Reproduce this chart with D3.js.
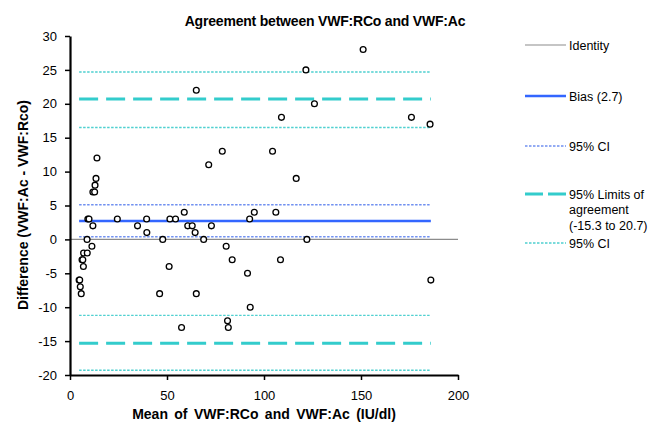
<!DOCTYPE html>
<html lang="en">
<head>
<meta charset="UTF-8" />
<title>Agreement between VWF:RCo and VWF:Ac</title>
<script src="https://d3js.org/d3.v7.min.js"></script>
<style>
  body { margin: 0; background: #fff; font-family: "Liberation Sans", Arial, sans-serif; }
  svg { display: block; }
  .tick text { font-size: 13px; fill: #000; }
  .axis path, .axis line { stroke: #000; }
  .axis path { stroke-width: 2.2; }
  .legend text { font-size: 12.5px; fill: #000; }
</style>
</head>
<body>
<svg width="670" height="423"></svg>
<script>
  // mean of the two methods, difference (Ac - RCo)
  const means = [4.7, 5.0, 5.3, 5.8, 6.2, 6.6, 6.9, 7.0, 8.9, 8.8, 9.2, 9.8, 11.3, 11.8, 11.8, 12.7, 12.9, 13.4, 13.9,
    24.4, 34.8, 39.5, 39.6, 46.2, 47.8, 51.1, 51.5, 54.4, 57.5, 58.9, 60.7, 63.0, 64.5, 65.1, 65.1, 68.9,
    71.5, 72.9, 78.5, 80.5, 81.2, 81.6, 83.6, 91.5, 92.6, 92.9, 95.0, 104.4, 106.1, 108.5, 109.0, 116.6,
    121.6, 122.1, 126.0, 151.1, 176.0, 185.6, 186.0];
  const diffs = [-6, -6, -7, -8, -3, -3, -4, -2, -2, 0, 3, 3, -1, 2, 7, 7, 8, 9, 12,
    3, 2, 3, 1, -8, 0, -4, 3, 3, -13, 4, 2, 2, 1, -8, 22, 0,
    11, 2, 13, -1, -12, -13, -3, -5, 3, -10, 4, 13, 4, -3, 18, 9,
    25, 0, 20, 28, 18, 17, -6];

  const bias = 2.7;
  const biasCI = [0.4, 5.1];
  const limits = [-15.3, 20.7];
  const limitsCI = [-19.3, -11.2, 16.5, 24.7];

  const xTicks = [0, 50, 100, 150, 200];
  const yTicks = [-20, -15, -10, -5, 0, 5, 10, 15, 20, 25, 30];

  const legendItems = [
    { label: ["Identity"], style: "identity" },
    { label: ["Bias (2.7)"], style: "bias" },
    { label: ["95% CI"], style: "biasci" },
    { label: ["95% Limits of", "agreement", "(-15.3 to 20.7)"], style: "loa" },
    { label: ["95% CI"], style: "loaci" }
  ];

  const styles = {
    identity: { stroke: "#8c8c8c", width: 1.2, dash: null },
    bias: { stroke: "#3366ff", width: 2.5, dash: null },
    biasci: { stroke: "#7090f0", width: 1.6, dash: "2.5,1.5" },
    loa: { stroke: "#33cccc", width: 3, dash: "19,8" },
    loaci: { stroke: "#4fd0d0", width: 1.4, dash: "2.5,1.5" }
  };

  const svg = d3.select("svg");
  const x = d3.scaleLinear().domain([0, 200]).range([70, 458]);
  const y = d3.scaleLinear().domain([-20, 30]).range([375, 36]);

  const xMin = d3.min(means), xMax = d3.max(means);

  function hline(val, st, x0, x1) {
    const s = styles[st];
    svg.append("line")
      .attr("x1", x(x0)).attr("x2", x(x1))
      .attr("y1", y(val)).attr("y2", y(val))
      .attr("stroke", s.stroke)
      .attr("stroke-width", s.width)
      .attr("stroke-dasharray", s.dash);
  }

  // reference lines
  hline(0, "identity", 0, 200);
  limitsCI.forEach(v => hline(v, "loaci", xMin, xMax));
  limits.forEach(v => hline(v, "loa", xMin, xMax));
  biasCI.forEach(v => hline(v, "biasci", xMin, xMax));
  hline(bias, "bias", xMin, xMax);

  // axes
  svg.append("g")
    .attr("class", "axis")
    .attr("transform", "translate(70,0)")
    .call(d3.axisLeft(y).tickValues(yTicks).tickSize(5).tickSizeOuter(0).tickPadding(8).tickFormat(d => String(d)))
    .call(g => g.selectAll(".tick line").attr("stroke-width", 1.5));

  svg.append("g")
    .attr("class", "axis")
    .attr("transform", "translate(0,375)")
    .call(d3.axisBottom(x).tickValues(xTicks).tickSize(5).tickSizeOuter(0).tickPadding(11).tickFormat(d => String(d)))
    .call(g => g.selectAll(".tick line").attr("stroke-width", 1.5));

  // points
  svg.append("g").selectAll("circle")
    .data(means.map((m, i) => ({ m, d: diffs[i] })))
    .enter().append("circle")
    .attr("cx", p => x(p.m))
    .attr("cy", p => y(p.d))
    .attr("r", 2.9)
    .attr("fill", "#fff")
    .attr("stroke", "#000")
    .attr("stroke-width", 1.3);

  // titles
  svg.append("text")
    .attr("x", 325).attr("y", 26)
    .attr("text-anchor", "middle")
    .attr("font-size", 14).attr("font-weight", "bold")
    .attr("letter-spacing", -0.2)
    .text("Agreement between VWF:RCo and VWF:Ac");

  svg.append("text")
    .attr("x", 264).attr("y", 419)
    .attr("text-anchor", "middle")
    .attr("font-size", 14).attr("font-weight", "bold")
    .attr("word-spacing", 2.5)
    .text("Mean of VWF:RCo and VWF:Ac (IU/dl)");

  svg.append("text")
    .attr("transform", "translate(28,205) rotate(-90)")
    .attr("text-anchor", "middle")
    .attr("font-size", 14).attr("font-weight", "bold")
    .text("Difference (VWF:Ac - VWF:Rco)");

  // legend
  const legendY = [45, 96, 146, 194, 243];
  const legend = svg.append("g").attr("class", "legend");
  legendItems.forEach((item, i) => {
    const s = styles[item.style];
    legend.append("line")
      .attr("x1", 525).attr("x2", 566)
      .attr("y1", legendY[i]).attr("y2", legendY[i])
      .attr("stroke", s.stroke)
      .attr("stroke-width", s.width)
      .attr("stroke-dasharray", item.style === "loa" ? "18,5" : s.dash);
    item.label.forEach((t, j) => {
      legend.append("text")
        .attr("x", 569)
        .attr("y", legendY[i] + 4.5 + j * 15.5)
        .text(t);
    });
  });
</script>
</body>
</html>
